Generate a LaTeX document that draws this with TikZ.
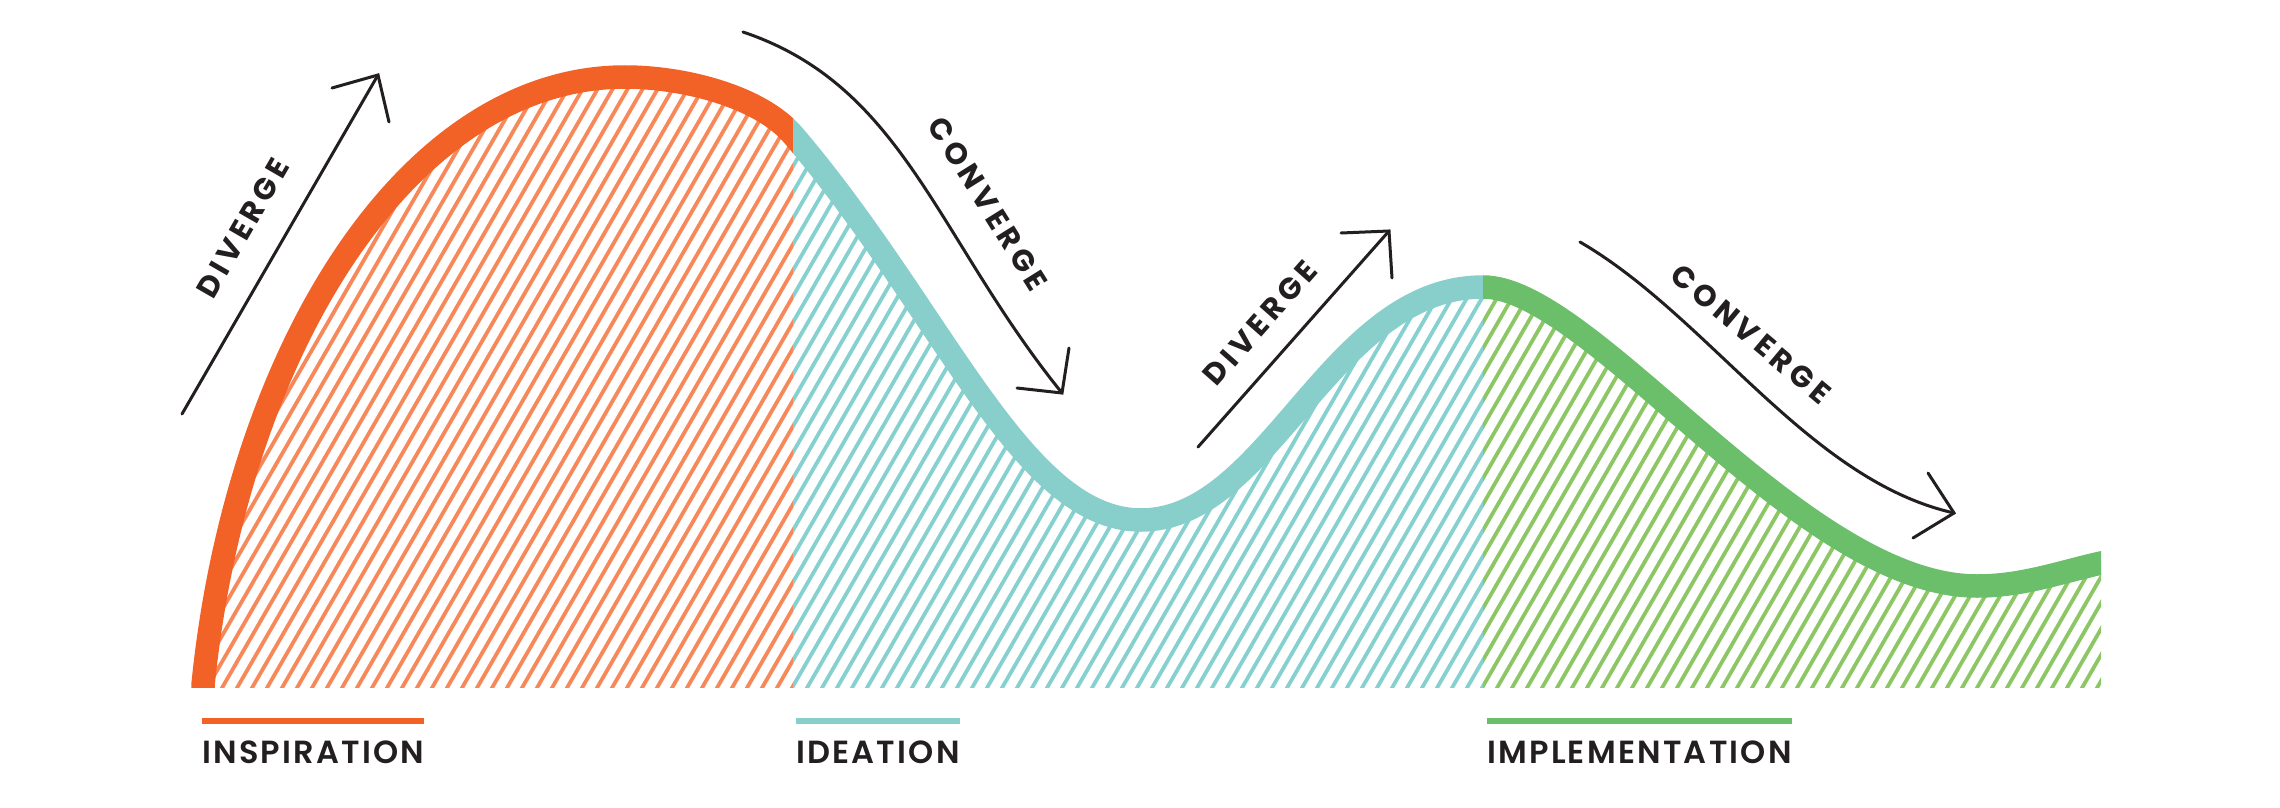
\documentclass[tikz,border=0pt]{standalone}
\usepackage{fontspec}
\setmainfont{Poppins}
\newfontfamily\arrowfont{Poppins}[LetterSpace=15]
\newfontfamily\legendfont{Poppins SemiBold}[LetterSpace=7]
\definecolor{orangeband}{HTML}{F26227}
\definecolor{orangehatch}{HTML}{F6885A}
\definecolor{tealband}{HTML}{88CFCC}
\definecolor{tealhatch}{HTML}{86D0CF}
\definecolor{greenband}{HTML}{6CBF6A}
\definecolor{greenhatch}{HTML}{8DC765}
\definecolor{ink}{HTML}{231F20}
\begin{document}
\begin{tikzpicture}[x=1pt,y=-1pt,
  mycurve/.style={insert path={(203,705) -- (203,685) .. controls (236,355) and (405,77) .. (625,77) .. controls (685,77) and (760.5,97) .. (793,135) .. controls (942.5,310) and (1021,520) .. (1141,520) .. controls (1270,520) and (1330,287) .. (1483,287) .. controls (1592,287) and (1801,586) .. (1977,586) .. controls (2022,586) and (2057,573) .. (2101,563) -- (2130,556.5)}},
  band/.style={line width=23.5pt},
  hatchline/.style={line width=3.8pt},
  arrowline/.style={draw=ink, line width=3pt, line cap=round, line join=miter},
  arrowlabel/.style={font=\arrowfont\bfseries\fontsize{30}{30}\selectfont, text=ink, inner sep=0pt},
  legendlabel/.style={font=\legendfont\fontsize{32}{32}\selectfont, text=ink, inner sep=0pt, anchor=base west},
  legendline/.style={line width=5.5pt}
]
\useasboundingbox (0,0) rectangle (2280,808);

% hatched areas and bands
\foreach \xa/\xb/\hc/\bc in {150/793/orangehatch/orangeband, 793/1483/tealhatch/tealband, 1483/2101/greenhatch/greenband} {
  \begin{scope}
    \clip (\xa,0) rectangle (\xb,687);
    \begin{scope}
      \clip [mycurve] -- (2130,705) -- cycle;
      \foreach \x in {-295,-280,...,2200} \draw[hatchline,\hc] (\x,700) -- ++(404,-700);
    \end{scope}
    \draw[band,\bc] [mycurve];
  \end{scope}
}

% arrows
\coordinate (d1s) at (182,414); \coordinate (d1t) at (378,75);
\coordinate (d1a) at (332,88);  \coordinate (d1b) at (389,122);
\draw[arrowline] (d1s) -- (d1t);
\draw[arrowline] (d1a) -- (d1t) -- (d1b);
\node[arrowlabel, rotate=60] (div1) at (243,228) {DIVERGE};

\coordinate (c1s) at (743,32); \coordinate (c1t) at (1062,393);
\coordinate (c1a) at (1017,388); \coordinate (c1b) at (1069,348);
\draw[arrowline] (c1s) .. controls (904,86) and (936,237) .. (c1t);
\draw[arrowline] (c1a) -- (c1t) -- (c1b);
\node[arrowlabel, rotate=-58] (conv1) at (988,204) {CONVERGE};

\coordinate (d2s) at (1198,447); \coordinate (d2t) at (1389,231);
\coordinate (d2a) at (1341,233); \coordinate (d2b) at (1392,278);
\draw[arrowline] (d2s) -- (d2t);
\draw[arrowline] (d2a) -- (d2t) -- (d2b);
\node[arrowlabel, rotate=48.5] (div2) at (1260,323) {DIVERGE};

\coordinate (c2s) at (1580,242); \coordinate (c2t) at (1954,513);
\coordinate (c2a) at (1928,473); \coordinate (c2b) at (1913,538);
\draw[arrowline] (c2s) .. controls (1709,317) and (1808,480) .. (c2t);
\draw[arrowline] (c2a) -- (c2t) -- (c2b);
\node[arrowlabel, rotate=-40] (conv2) at (1751,334) {CONVERGE};

% legend
\node[legendlabel] (insp) at (202,763) {INSPIRATION};
\draw[legendline, orangeband] (insp.west |- 0,721) -- (insp.east |- 0,721);
\node[legendlabel] (idea) at (796,763) {IDEATION};
\draw[legendline, tealband] (idea.west |- 0,721) -- (idea.east |- 0,721);
\node[legendlabel] (impl) at (1487,763) {IMPLEMENTATION};
\draw[legendline, greenband] (impl.west |- 0,721) -- (impl.east |- 0,721);
\end{tikzpicture}
\end{document}
